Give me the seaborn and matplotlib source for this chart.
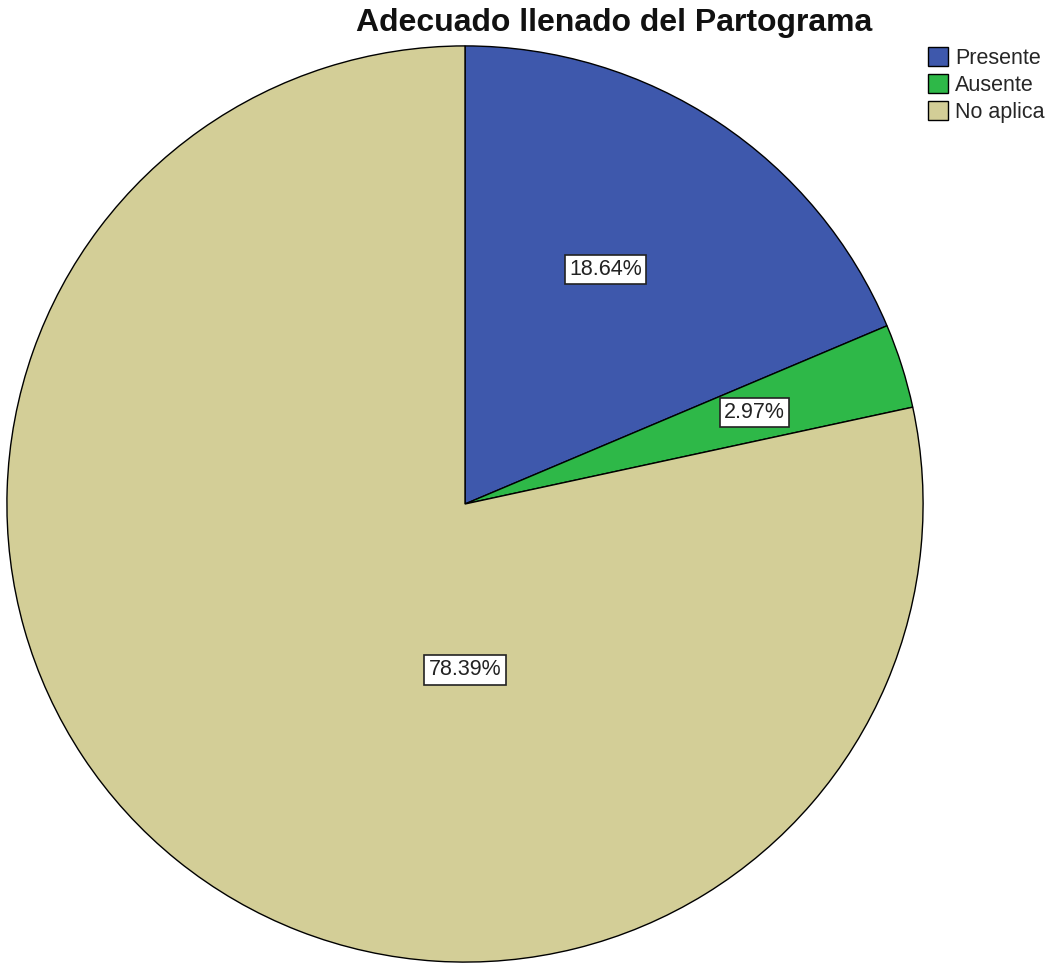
import matplotlib
matplotlib.use("Agg")
import matplotlib.pyplot as plt
import seaborn as sns

sns.set_theme(style="white")
plt.rcParams['font.family'] = ['Liberation Sans', 'DejaVu Sans']

# data
categorias = ["Presente", "Ausente", "No aplica"]
porcentajes = [18.64, 2.97, 78.39]
etiquetas = ["18.64%", "2.97%", "78.39%"]
colores = sns.color_palette(["#3E58AC", "#2EB848", "#D3CE97"])

# label spots, in units of the pie radius
pos_etiquetas = [(0.307, 0.512), (0.632, 0.200), (0.0, -0.362)]

fig = plt.figure(figsize=(10.45, 9.65), dpi=100)
ax = fig.add_axes([6 / 1045, 2 / 965, 918 / 1045, 918 / 965])

wedges, _ = ax.pie(
    porcentajes,
    colors=colores,
    startangle=90,
    counterclock=False,
    radius=1,
    wedgeprops=dict(edgecolor="black", linewidth=1),
)
ax.set_xlim(-1.002, 1.002)
ax.set_ylim(-1.002, 1.002)
ax.set_aspect("equal")
ax.axis("off")

for (x, y), txt in zip(pos_etiquetas, etiquetas):
    ax.text(x, y, txt, ha="center", va="center", fontsize=15.5, color="#222222",
            bbox=dict(boxstyle="square,pad=0.2", facecolor="white",
                      edgecolor="#222222", linewidth=1.2))

fig.text(614 / 1045, 1 - 23 / 965, "Adecuado llenado del Partograma",
         ha="center", va="center", fontsize=23, fontweight="bold", color="#111111")

fig.legend(wedges, categorias, loc="upper left",
           bbox_to_anchor=(928 / 1045, 1 - 47 / 965),
           frameon=False, fontsize=15.5, handlelength=0.95, handleheight=0.95,
           handletextpad=0.3, labelspacing=0.25, borderpad=0, borderaxespad=0)

fig.savefig("out.png", dpi=100)
